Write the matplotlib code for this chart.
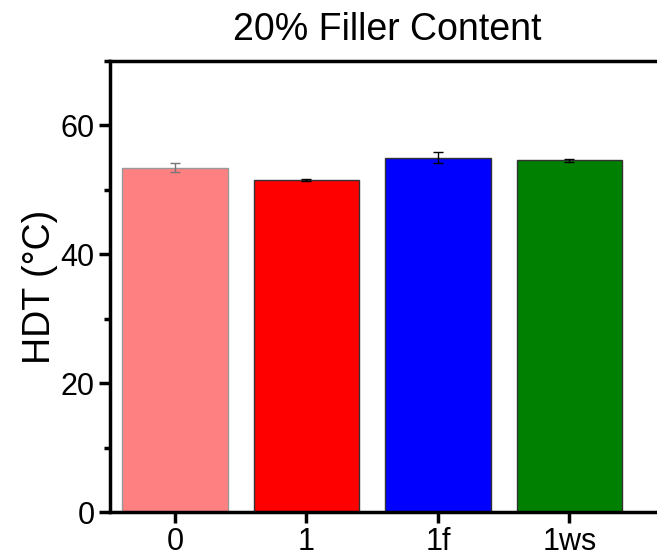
import matplotlib
matplotlib.use("Agg")
import matplotlib.pyplot as plt
from matplotlib.ticker import MultipleLocator

plt.rcParams['font.family'] = ['Liberation Sans', 'DejaVu Sans']

categories = ["0", "1", "1f", "1ws"]
hdt_mean = [53.4, 51.6, 55.0, 54.6]
hdt_err = [0.7, 0.15, 0.8, 0.2]
bar_colors = ["#FF8080", "#FF0000", "#0000FF", "#008000"]
edge_colors = ["#999999", "#333333", "#333333", "#333333"]
err_colors = ["#777777", "black", "black", "black"]

fig = plt.figure(figsize=(6.57, 5.57), dpi=100)
ax = fig.add_axes([110/657, 1-512/557, 554/657, (512-61)/557])

x = list(range(len(categories)))
for xi, h, e, c, ec, erc in zip(x, hdt_mean, hdt_err, bar_colors, edge_colors, err_colors):
    ax.bar(xi, h, width=0.8, color=c, edgecolor=ec, linewidth=1.0, zorder=2)
    ax.errorbar(xi, h, yerr=e, fmt='none', ecolor=erc, elinewidth=1.0,
                capsize=3.3, capthick=1.0, zorder=3)

ax.set_xlim(-0.495, 3.72)
ax.set_ylim(0, 70)
ax.set_xticks(x)
ax.set_xticklabels(categories)
ax.yaxis.set_major_locator(MultipleLocator(20))
ax.yaxis.set_minor_locator(MultipleLocator(10))

for s in ax.spines.values():
    s.set_linewidth(2.5)
ax.tick_params(axis='both', which='major', direction='out', length=8, width=2.5,
               labelsize=22, pad=3)
ax.tick_params(axis='y', which='minor', direction='out', length=4.5, width=2.5)

ax.set_ylabel("HDT (°C)", fontsize=27, labelpad=2)
ax.set_title("20% Filler Content", fontsize=27, pad=15)

fig.savefig("out.png", dpi=100)
